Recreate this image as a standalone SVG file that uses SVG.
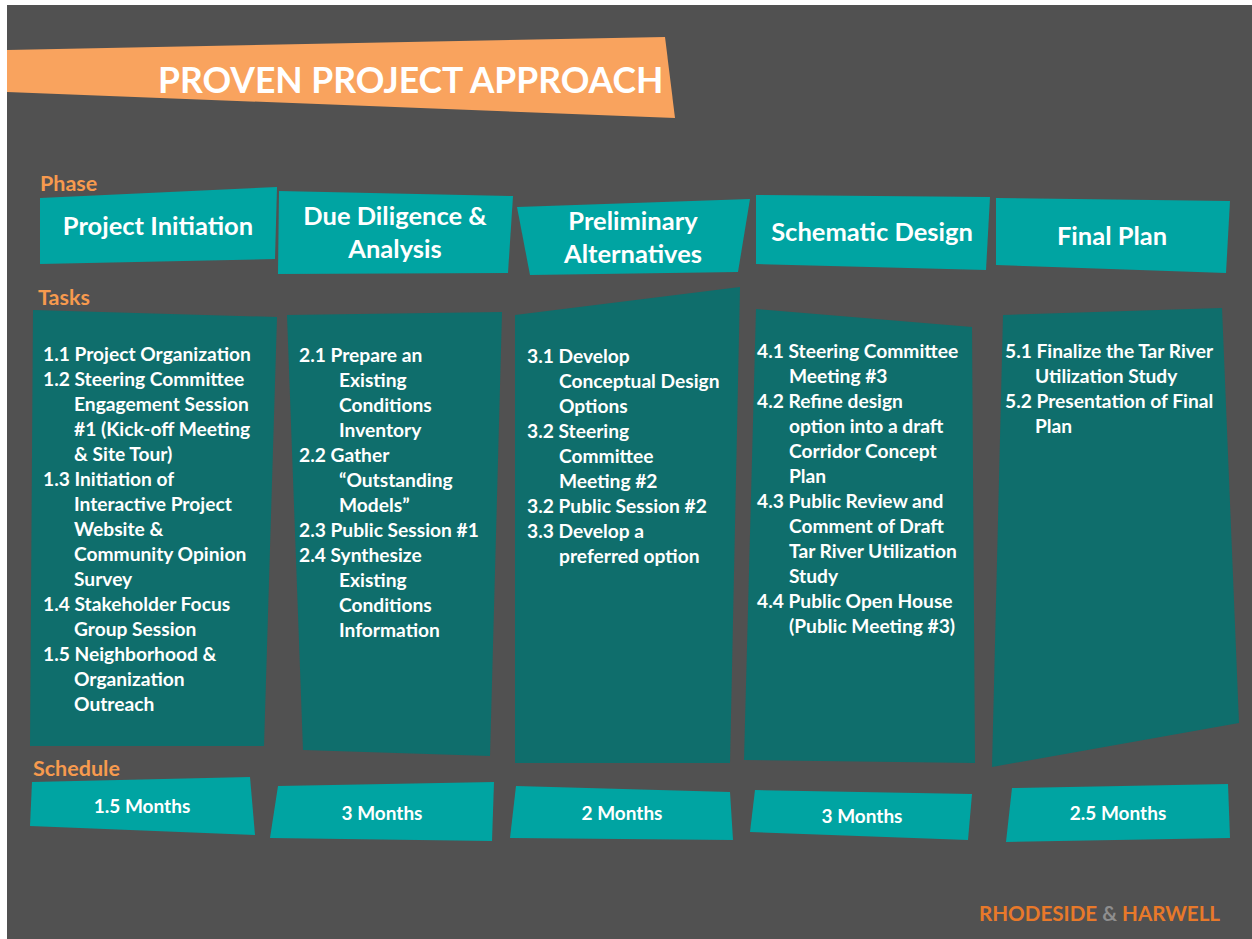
<svg xmlns="http://www.w3.org/2000/svg" width="1252" height="939" viewBox="0 0 1252 939">
  <style>
    .bg { fill: #515151; }
    .banner { fill: #F9A35E; }
    .phase { fill: #00A4A2; }
    .panel { fill: #0F6E6C; }
    .sched { fill: #00A4A2; }
    .title { font-family: Lato, "Open Sans", sans-serif; font-weight: 700; font-size: 35.5px; fill: #FFFFFF; }
    .label { font-family: Lato, "Open Sans", sans-serif; font-weight: 700; font-size: 21.5px; fill: #F79A4E; }
    .ph { font-family: Lato, "Open Sans", sans-serif; font-weight: 700; font-size: 25.5px; fill: #FFFFFF; text-anchor: middle; }
    .task { font-family: Lato, "Open Sans", sans-serif; font-weight: 700; font-size: 19.2px; fill: #FFFFFF; }
    .mo { font-family: Lato, "Open Sans", sans-serif; font-weight: 700; font-size: 19px; fill: #FFFFFF; text-anchor: middle; }
    .logo { font-family: Lato, "Open Sans", sans-serif; font-weight: 700; font-size: 20.6px; fill: #E8792A; }
    .amp { fill: #8E8E8E; }
  </style>

  <!-- page background -->
  <rect x="0" y="0" width="1252" height="939" fill="#FFFFFF"/>
  <rect class="bg" x="7" y="5" width="1245" height="934"/>

  <!-- heading banner -->
  <g id="heading">
    <polygon class="banner" points="7,50 665,37 675,118 7,92"/>
    <text class="title" x="158" y="93">PROVEN PROJECT APPROACH</text>
  </g>

  <!-- row labels -->
  <g id="row-labels">
    <text class="label" x="40" y="191">Phase</text>
    <text class="label" x="38" y="305">Tasks</text>
    <text class="label" x="33" y="776">Schedule</text>
  </g>

  <!-- phase headers -->
  <g id="phase-1">
    <polygon class="phase" points="40,198 277,187 275,259 40,264"/>
    <text class="ph" x="158" y="235">Project Initiation</text>
  </g>
  <g id="phase-2">
    <polygon class="phase" points="279,191 513,196 508,273 278,274"/>
    <text class="ph" x="395" y="225">Due Diligence &amp;</text>
    <text class="ph" x="395" y="258">Analysis</text>
  </g>
  <g id="phase-3">
    <polygon class="phase" points="517,207 750,199 738,272 530,275"/>
    <text class="ph" x="633" y="230">Preliminary</text>
    <text class="ph" x="633" y="263">Alternatives</text>
  </g>
  <g id="phase-4">
    <polygon class="phase" points="756,195 990,197 986,270 756,264"/>
    <text class="ph" x="872" y="241">Schematic Design</text>
  </g>
  <g id="phase-5">
    <polygon class="phase" points="996,198 1230,201 1226,273 996,265"/>
    <text class="ph" x="1112" y="245">Final Plan</text>
  </g>

  <!-- task panels -->
  <g id="tasks-1">
    <polygon class="panel" points="33,310 277,317 264,746 30,746"/>
    <text class="task">
      <tspan x="43" y="361">1.1 Project Organization</tspan>
      <tspan x="43" y="386">1.2 Steering Committee</tspan>
      <tspan x="74" y="411">Engagement Session</tspan>
      <tspan x="74" y="436">#1 (Kick-off Meeting</tspan>
      <tspan x="74" y="461">&amp; Site Tour)</tspan>
      <tspan x="43" y="486">1.3 Initiation of</tspan>
      <tspan x="74" y="511">Interactive Project</tspan>
      <tspan x="74" y="536">Website &amp;</tspan>
      <tspan x="74" y="561">Community Opinion</tspan>
      <tspan x="74" y="586">Survey</tspan>
      <tspan x="43" y="611">1.4 Stakeholder Focus</tspan>
      <tspan x="74" y="636">Group Session</tspan>
      <tspan x="43" y="661">1.5 Neighborhood &amp;</tspan>
      <tspan x="74" y="686">Organization</tspan>
      <tspan x="74" y="711">Outreach</tspan>
    </text>
  </g>
  <g id="tasks-2">
    <polygon class="panel" points="287,315 502,312 490,756 303,750"/>
    <text class="task">
      <tspan x="299" y="362">2.1 Prepare an</tspan>
      <tspan x="339" y="387">Existing</tspan>
      <tspan x="339" y="412">Conditions</tspan>
      <tspan x="339" y="437">Inventory</tspan>
      <tspan x="299" y="462">2.2 Gather</tspan>
      <tspan x="339" y="487">“Outstanding</tspan>
      <tspan x="339" y="512">Models”</tspan>
      <tspan x="299" y="537">2.3 Public Session #1</tspan>
      <tspan x="299" y="562">2.4 Synthesize</tspan>
      <tspan x="339" y="587">Existing</tspan>
      <tspan x="339" y="612">Conditions</tspan>
      <tspan x="339" y="637">Information</tspan>
    </text>
  </g>
  <g id="tasks-3">
    <polygon class="panel" points="515,315 740,287 730,763 515,763"/>
    <text class="task">
      <tspan x="527" y="363">3.1 Develop</tspan>
      <tspan x="559" y="388">Conceptual Design</tspan>
      <tspan x="559" y="413">Options</tspan>
      <tspan x="527" y="438">3.2 Steering</tspan>
      <tspan x="559" y="463">Committee</tspan>
      <tspan x="559" y="488">Meeting #2</tspan>
      <tspan x="527" y="513">3.2 Public Session #2</tspan>
      <tspan x="527" y="538">3.3 Develop a</tspan>
      <tspan x="559" y="563">preferred option</tspan>
    </text>
  </g>
  <g id="tasks-4">
    <polygon class="panel" points="756,309 972,327 975,763 744,760"/>
    <text class="task">
      <tspan x="757" y="358">4.1 Steering Committee</tspan>
      <tspan x="789" y="383">Meeting #3</tspan>
      <tspan x="757" y="408">4.2 Refine design</tspan>
      <tspan x="789" y="433">option into a draft</tspan>
      <tspan x="789" y="458">Corridor Concept</tspan>
      <tspan x="789" y="483">Plan</tspan>
      <tspan x="757" y="508">4.3 Public Review and</tspan>
      <tspan x="789" y="533">Comment of Draft</tspan>
      <tspan x="789" y="558">Tar River Utilization</tspan>
      <tspan x="789" y="583">Study</tspan>
      <tspan x="757" y="608">4.4 Public Open House</tspan>
      <tspan x="789" y="633">(Public Meeting #3)</tspan>
    </text>
  </g>
  <g id="tasks-5">
    <polygon class="panel" points="1003,315 1222,308 1239,723 992,767"/>
    <text class="task">
      <tspan x="1005" y="358">5.1 Finalize the Tar River</tspan>
      <tspan x="1035" y="383">Utilization Study</tspan>
      <tspan x="1005" y="408">5.2 Presentation of Final</tspan>
      <tspan x="1035" y="433">Plan</tspan>
    </text>
  </g>

  <!-- schedule durations -->
  <g id="schedule-1">
    <polygon class="sched" points="32,782 250,777 255,835 30,826"/>
    <text class="mo" x="142" y="813">1.5 Months</text>
  </g>
  <g id="schedule-2">
    <polygon class="sched" points="278,786 494,782 492,841 270,838"/>
    <text class="mo" x="382" y="820">3 Months</text>
  </g>
  <g id="schedule-3">
    <polygon class="sched" points="516,786 730,792 733,840 510,838"/>
    <text class="mo" x="622" y="820">2 Months</text>
  </g>
  <g id="schedule-4">
    <polygon class="sched" points="755,790 972,794 968,840 750,832"/>
    <text class="mo" x="862" y="823">3 Months</text>
  </g>
  <g id="schedule-5">
    <polygon class="sched" points="1012,788 1228,784 1230,838 1006,842"/>
    <text class="mo" x="1118" y="820">2.5 Months</text>
  </g>

  <!-- no links between the columns -->
  <g id="connectors"/>

  <!-- firm name -->
  <g id="firm">
    <text class="logo" x="979" y="921">RHODESIDE <tspan class="amp">&amp;</tspan> HARWELL</text>
  </g>
</svg>
